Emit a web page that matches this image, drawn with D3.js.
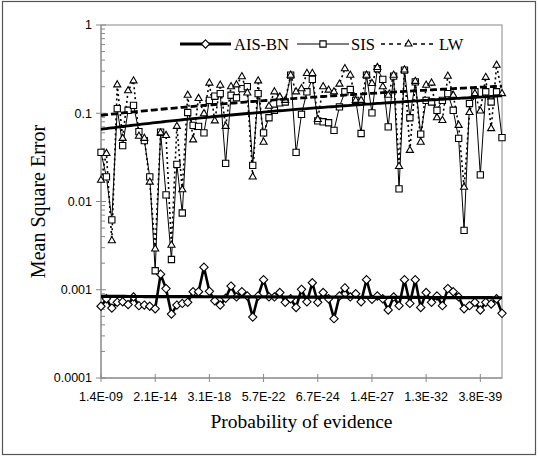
<!DOCTYPE html>
<html>
<head>
<meta charset="utf-8">
<script src="https://cdn.jsdelivr.net/npm/d3@7"></script>
<style>
  body { margin: 0; background: #fff; }
  svg { display: block; }
</style>
</head>
<body>
<div id="chart"></div>
<script>
// 75 test cases, labelled every 10th by probability of evidence
const tickLabels = ["1.4E-09", "2.1E-14", "3.1E-18", "5.7E-22", "6.7E-24", "1.4E-27", "1.3E-32", "3.8E-39"];
const yTickLabels = ["1", "0.1", "0.01", "0.001", "0.0001"];
const seriesNames = ["AIS-BN", "SIS", "LW"];

const aisbn = [
  0.00065, 0.00079, 0.00062, 0.00072, 0.00073, 0.00068, 0.00083, 0.00066, 0.00067, 0.00065,
  0.00061, 0.0015, 0.00103, 0.00053, 0.00067, 0.00070, 0.00072, 0.00095, 0.00095, 0.0018,
  0.00096, 0.00075, 0.00067, 0.00080, 0.0011, 0.00083, 0.00095, 0.00085, 0.00049, 0.00085,
  0.0013, 0.00083, 0.00083, 0.00093, 0.00072, 0.00079, 0.00063, 0.00101, 0.00073, 0.0012,
  0.00072, 0.00093, 0.00079, 0.00047, 0.00085, 0.00105, 0.00083, 0.0009, 0.00073, 0.0013,
  0.00078, 0.00085, 0.00079, 0.00059, 0.00083, 0.00066, 0.0013, 0.0007, 0.0013, 0.00063,
  0.00093, 0.00072, 0.00085, 0.00066, 0.00103, 0.00095, 0.00083, 0.00061, 0.00066, 0.00072,
  0.00059, 0.00072, 0.00069, 0.00079, 0.00054
];

const sis = [
  0.036, 0.019, 0.0062, 0.113, 0.043, 0.108, 0.123, 0.062, 0.049, 0.019,
  0.00164, 0.061, 0.0119, 0.0022, 0.0263, 0.0074, 0.102, 0.073, 0.071, 0.06,
  0.14, 0.156, 0.167, 0.027, 0.16, 0.15, 0.19, 0.2, 0.0257, 0.167,
  0.06, 0.089, 0.108, 0.131, 0.134, 0.27, 0.036, 0.097, 0.175, 0.242,
  0.082, 0.08, 0.078, 0.064, 0.118, 0.175, 0.186, 0.14, 0.059, 0.27,
  0.101, 0.32, 0.242, 0.07, 0.263, 0.0139, 0.308, 0.089, 0.227, 0.058,
  0.14, 0.134, 0.108, 0.14, 0.167, 0.108, 0.052, 0.0047, 0.129, 0.175,
  0.02, 0.175, 0.134, 0.175, 0.053
];

const lw = [
  0.0174, 0.035, 0.0036, 0.21, 0.052, 0.18, 0.233, 0.055, 0.052, 0.0166,
  0.0029, 0.06, 0.056, 0.0032, 0.071, 0.0136, 0.16, 0.05, 0.147, 0.099,
  0.22, 0.082, 0.208, 0.071, 0.2, 0.21, 0.26, 0.17, 0.019, 0.233,
  0.047, 0.12, 0.175, 0.153, 0.14, 0.27, 0.175, 0.19, 0.283, 0.283,
  0.085, 0.2, 0.183, 0.175, 0.214, 0.32, 0.27, 0.14, 0.14, 0.27,
  0.218, 0.33, 0.2, 0.16, 0.27, 0.025, 0.31, 0.038, 0.23, 0.047,
  0.208, 0.22, 0.089, 0.083, 0.263, 0.16, 0.073, 0.0145, 0.102, 0.167,
  0.106, 0.255, 0.067, 0.35, 0.167
];

const W = 538, H = 457;
const margin = { top: 25, right: 36, bottom: 79, left: 101 };
const plotW = W - margin.left - margin.right;
const plotH = H - margin.top - margin.bottom;

const svg = d3.select("#chart").append("svg")
  .attr("width", W)
  .attr("height", H);

// outer chart border
svg.append("rect")
  .attr("x", 2.5).attr("y", 1.5)
  .attr("width", W - 5).attr("height", H - 4)
  .attr("fill", "none").attr("stroke", "#555").attr("stroke-width", 1.2);

const g = svg.append("g").attr("transform", `translate(${margin.left},${margin.top})`);

const n = aisbn.length;
const x = d3.scaleLinear().domain([0, n - 1]).range([0, plotW]);
const y = d3.scaleLog().domain([1e-4, 1]).range([plotH, 0]);

// plot area frame
g.append("rect")
  .attr("width", plotW).attr("height", plotH)
  .attr("fill", "none").attr("stroke", "#888").attr("stroke-width", 1);

// y axis: majors cross the axis, minors inside
const majors = [1, 0.1, 0.01, 0.001, 0.0001];
const minors = [];
for (let e = -4; e < 0; e++) for (let k = 2; k <= 9; k++) minors.push(k * Math.pow(10, e));

g.selectAll(".ymin").data(minors).enter().append("line")
  .attr("x1", 0).attr("x2", 4)
  .attr("y1", d => y(d)).attr("y2", d => y(d))
  .attr("stroke", "#888");

g.selectAll(".ymaj").data(majors).enter().append("line")
  .attr("x1", -5).attr("x2", 5)
  .attr("y1", d => y(d)).attr("y2", d => y(d))
  .attr("stroke", "#888");

g.selectAll(".ylab").data(majors).enter().append("text")
  .attr("x", -9)
  .attr("y", d => y(d))
  .attr("dy", "0.35em")
  .attr("text-anchor", "end")
  .style("font-family", "'Liberation Sans', Arial, sans-serif")
  .style("font-size", "12.5px")
  .text((d, i) => yTickLabels[i]);

// x axis
const xTicks = tickLabels.map((_, i) => i * 10);
g.selectAll(".xt").data(xTicks).enter().append("line")
  .attr("x1", d => x(d)).attr("x2", d => x(d))
  .attr("y1", plotH - 4).attr("y2", plotH + 4)
  .attr("stroke", "#888");

g.selectAll(".xlab").data(xTicks).enter().append("text")
  .attr("x", d => x(d))
  .attr("y", plotH + 23)
  .attr("text-anchor", "middle")
  .style("font-family", "'Liberation Sans', Arial, sans-serif")
  .style("font-size", "12.5px")
  .text((d, i) => tickLabels[i]);

g.append("line").attr("x1", 0).attr("x2", 0).attr("y1", 0).attr("y2", plotH).attr("stroke", "#888");
g.append("line").attr("x1", 0).attr("x2", plotW).attr("y1", plotH).attr("y2", plotH).attr("stroke", "#888");

// axis titles
svg.append("text")
  .attr("x", margin.left + plotW / 2)
  .attr("y", 428)
  .attr("text-anchor", "middle")
  .style("font-family", "'Liberation Serif', 'Times New Roman', serif")
  .style("font-size", "19.5px")
  .text("Probability of evidence");

svg.append("text")
  .attr("transform", `translate(45,${margin.top + plotH / 2}) rotate(-90)`)
  .attr("text-anchor", "middle")
  .style("font-family", "'Liberation Serif', 'Times New Roman', serif")
  .style("font-size", "20px")
  .text("Mean Square Error");

// series
const line = d3.line().x((d, i) => x(i)).y(d => y(d));

const symDiamond = d3.symbol().type(d3.symbolDiamond2).size(44);
const symSquare = d3.symbol().type(d3.symbolSquare2).size(50);
const symTriangle = d3.symbol().type(d3.symbolTriangle2).size(36);

const series = [
  { data: aisbn, width: 2.6, dash: null, sym: symDiamond, rot: 0 },
  { data: sis, width: 1, dash: null, sym: symSquare, rot: 0 },
  { data: lw, width: 1.6, dash: "2,3", sym: symTriangle, rot: 0 }
];

series.forEach(s => {
  g.append("path").datum(s.data)
    .attr("fill", "none").attr("stroke", "#000")
    .attr("stroke-width", s.width)
    .attr("stroke-dasharray", s.dash)
    .attr("d", line);
});

series.forEach(s => {
  g.selectAll(null).data(s.data).enter().append("path")
    .attr("transform", (d, i) => `translate(${x(i)},${y(d)})`)
    .attr("d", s.sym())
    .attr("fill", "#fff").attr("stroke", "#000").attr("stroke-width", 1.1);
});

// linear trendlines (least squares on the raw values, like Excel)
function linFit(vals) {
  const xs = vals.map((_, i) => i + 1);
  const mx = d3.mean(xs), my = d3.mean(vals);
  let sxy = 0, sxx = 0;
  xs.forEach((xv, i) => { sxy += (xv - mx) * (vals[i] - my); sxx += (xv - mx) * (xv - mx); });
  const b = sxy / sxx;
  return t => my + b * (t + 1 - mx);
}

const steps = d3.range(0, n - 1 + 0.001, 0.5);
const trendStyles = [
  { data: aisbn, width: 3.2, dash: null },
  { data: sis, width: 2.8, dash: null },
  { data: lw, width: 2.8, dash: "7,3" }
];
trendStyles.forEach(t => {
  const f = linFit(t.data);
  g.append("path").datum(steps)
    .attr("fill", "none").attr("stroke", "#000")
    .attr("stroke-width", t.width)
    .attr("stroke-dasharray", t.dash)
    .attr("d", d3.line().x(d => x(d)).y(d => y(f(d))));
});

// legend
const legendY = 44;
const legend = [
  { name: seriesNames[0], x0: 180, x1: 231, width: 3, dash: null, sym: symDiamond, tx: 234 },
  { name: seriesNames[1], x0: 297, x1: 349, width: 1.2, dash: null, sym: symSquare, tx: 351 },
  { name: seriesNames[2], x0: 381, x1: 436, width: 1.6, dash: "4,4", sym: symTriangle, tx: 439 }
];
legend.forEach(l => {
  svg.append("line")
    .attr("x1", l.x0).attr("x2", l.x1).attr("y1", legendY).attr("y2", legendY)
    .attr("stroke", "#000").attr("stroke-width", l.width)
    .attr("stroke-dasharray", l.dash);
  svg.append("path")
    .attr("transform", `translate(${(l.x0 + l.x1) / 2},${legendY})`)
    .attr("d", l.sym())
    .attr("fill", "#fff").attr("stroke", "#000").attr("stroke-width", 1.1);
  svg.append("text")
    .attr("x", l.tx).attr("y", legendY).attr("dy", "0.35em")
    .style("font-family", "'Liberation Serif', 'Times New Roman', serif")
    .style("font-size", "16.5px")
    .text(l.name);
});
</script>
</body>
</html>
